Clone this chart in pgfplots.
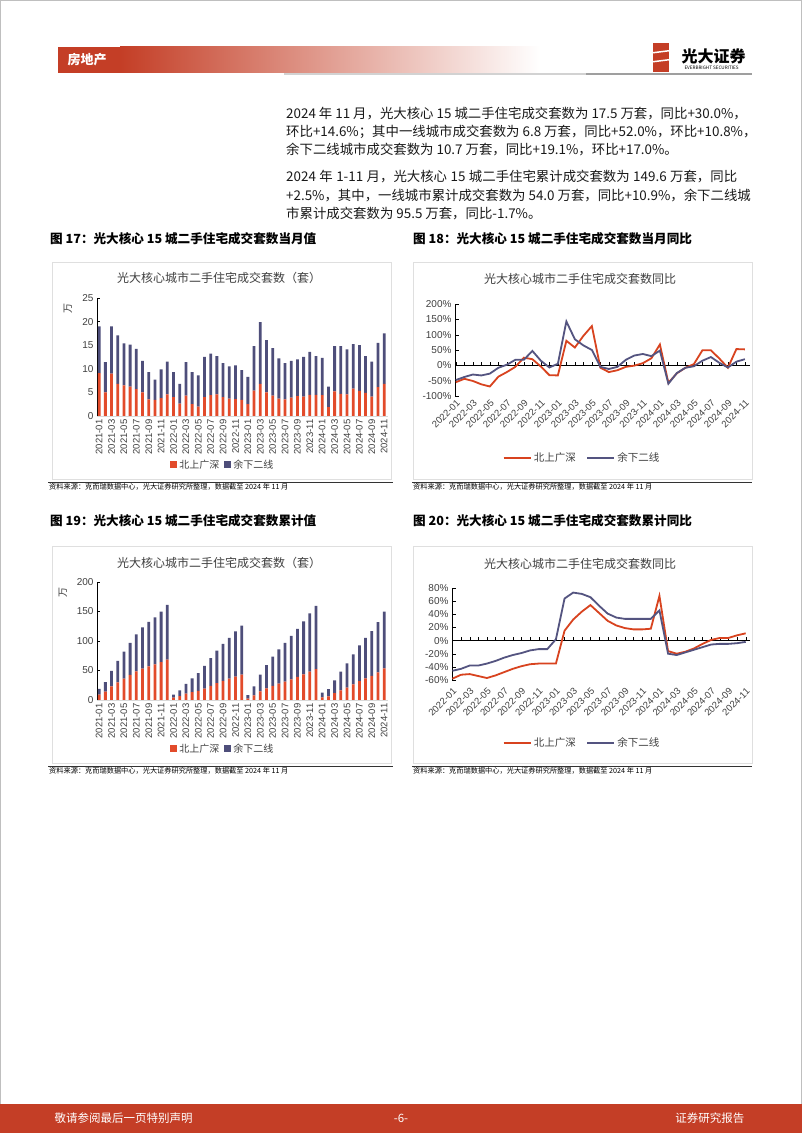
\documentclass[border=0pt]{standalone}
\usepackage{fontspec}
\setmainfont{Noto Sans CJK SC}
\newfontfamily\arial{Liberation Sans}
\usepackage{pgfplots}
\usepackage{pgfplotstable}
\pgfplotsset{compat=1.18}

\definecolor{ebred}{RGB}{226,75,43}
\definecolor{ebnavy}{RGB}{78,78,122}
\definecolor{lnred}{RGB}{216,67,31}
\definecolor{lnnavy}{RGB}{84,84,128}
\definecolor{hdrred}{RGB}{196,62,38}
\definecolor{txt}{RGB}{64,64,64}

% monthly volume, 10k units: x, tier-1 (r), other tier-2 (b)
\pgfplotstableread{
x r b
0 9.1 9.9
1 5.0 6.4
2 9.0 10.0
3 6.8 10.3
4 6.5 8.9
5 6.2 8.9
6 5.7 8.5
7 5.0 6.7
8 3.5 5.8
9 3.4 4.3
10 3.8 6.1
11 4.6 6.9
12 4.0 5.3
13 2.6 4.2
14 4.3 7.1
15 2.5 6.8
16 2.0 6.6
17 4.0 8.5
18 4.4 8.8
19 4.6 8.1
20 4.0 7.2
21 3.7 6.8
22 3.6 7.1
23 3.4 6.3
24 2.5 5.8
25 5.4 9.4
26 6.8 13.1
27 5.0 11.1
28 4.3 10.1
29 3.7 8.5
30 3.5 7.7
31 3.9 7.8
32 4.2 7.8
33 4.1 8.4
34 4.5 9.1
35 4.5 8.2
36 4.4 7.9
37 1.9 4.3
38 5.2 9.6
39 4.7 10.1
40 4.6 9.5
41 5.8 9.4
42 5.3 9.7
43 4.9 7.8
44 4.1 7.4
45 6.1 9.4
46 6.8 10.7
}\monthly

% year-to-date cumulative
\pgfplotstableread{
x r b
0 9.1 9.9
1 14.1 16.3
2 23.1 26.3
3 29.9 36.6
4 36.4 45.5
5 42.6 54.4
6 48.3 62.9
7 53.3 69.6
8 56.8 75.4
9 60.2 79.7
10 64.0 85.8
11 68.6 92.7
12 4.0 5.3
13 6.6 9.5
14 10.9 16.6
15 13.4 23.4
16 15.4 30.0
17 19.4 38.5
18 23.8 47.3
19 28.4 55.4
20 32.4 62.6
21 36.1 69.4
22 39.7 76.5
23 43.1 82.8
24 2.5 5.8
25 7.9 15.2
26 14.7 28.3
27 19.7 39.4
28 24.0 49.5
29 27.7 58.0
30 31.2 65.7
31 35.1 73.5
32 39.3 81.3
33 43.4 89.7
34 47.9 98.8
35 52.4 107.0
36 4.4 7.9
37 6.3 12.2
38 11.5 21.8
39 16.2 31.9
40 20.8 41.4
41 26.6 50.8
42 31.9 60.5
43 36.8 68.3
44 40.9 75.7
45 47.0 85.1
46 53.8 95.8
}\cumul

% yoy %, monthly (r, b) and cumulative (cr, cb), 2022-01 .. 2024-11
\pgfplotstableread{
x r b cr cb
0 -55 -48 -58 -46
1 -44 -38 -52 -43
2 -51 -30 -51 -38
3 -62 -33 -54 -38
4 -69 -27 -57 -35
5 -37 -8 -53 -31
6 -22 2 -48 -26
7 -5 18 -43 -22
8 25 18 -39 -19
9 20 47 -36 -15
10 -4 15 -35 -13
11 -32 -7 -35 -13
12 -33 5 -35 2
13 80 143 15 64
14 58 85 32 73
15 96 65 44 71
16 128 50 54 66
17 -8 -5 42 53
18 -22 -12 30 41
19 -16 -5 23 35
20 -5 18 19 33
21 -1 32 17 33
22 7 37 17 33
23 23 30 18 33
24 68 48 68 46
25 -57 -60 -16 -20
26 -26 -25 -20 -22
27 -8 -8 -17 -18
28 4 -3 -12 -14
29 49 15 -5 -10
30 49 27 1 -6
31 22 8 4 -5
32 -8 -7 4 -5
33 53 12 8 -4
34 52 20 11 -2
}\yoy

\pgfplotsset{
  barchart/.style={
    scale only axis, width=290.9pt, height=118pt,
    xmin=-0.35, xmax=46.6, ymin=0,
    ybar stacked, bar width=2.8pt,
    axis y line=left, axis x line=bottom,
    axis line style={-},
    x axis line style={draw=gray!30},
    y axis line style={black, line width=0.6pt},
    tick align=inside, major tick length=3pt,
    xtick={0,2,...,46},
    xticklabels={2021-01,2021-03,2021-05,2021-07,2021-09,2021-11,
      2022-01,2022-03,2022-05,2022-07,2022-09,2022-11,
      2023-01,2023-03,2023-05,2023-07,2023-09,2023-11,
      2024-01,2024-03,2024-05,2024-07,2024-09,2024-11},
    x tick label style={rotate=90, anchor=east, font=\arial\fontsize{9.5}{10}\selectfont, text=txt},
    xtick style={draw=none},
    y tick label style={font=\arial\fontsize{10}{11}\selectfont, text=txt},
    ytick style={black},
    /pgf/number format/assume math mode=true,
    legend columns=2, legend cell align=left,
    legend style={draw=none, fill=none, anchor=center,
      font=\fontsize{10}{12}\selectfont, text=txt,
      /tikz/every even column/.append style={column sep=3pt}},
    ylabel={万},
  },
  linechart/.style={
    scale only axis, height=92pt,
    axis y line=left, axis x line=middle,
    axis line style={-, black, line width=0.6pt},
    hide obscured x ticks=false, hide obscured y ticks=false,
    tick align=inside, major tick length=3.5pt, minor tick length=3.5pt,
    xtick={0,2,...,34}, minor xtick={1,3,...,33},
    xticklabels={2022-01,2022-03,2022-05,2022-07,2022-09,2022-11,
      2023-01,2023-03,2023-05,2023-07,2023-09,2023-11,
      2024-01,2024-03,2024-05,2024-07,2024-09,2024-11},
    x tick label style={rotate=45, anchor=north east, font=\arial\fontsize{9.5}{10}\selectfont, text=txt},
    y tick label style={font=\arial\fontsize{10}{11}\selectfont, text=txt},
    tick style={black},
    /pgf/number format/assume math mode=true,
    yticklabel={\pgfmathprintnumber{\tick}\%},
    legend columns=2, legend cell align=left,
    legend style={draw=none, fill=none, anchor=center,
      font=\fontsize{10.5}{12}\selectfont, text=txt,
      /tikz/every even column/.append style={column sep=8pt}},
    every axis plot/.append style={line width=1.8pt, mark=none},
  },
  sqleg/.style={legend image code/.code={\fill[##1] (0pt,-3.5pt) rectangle (7pt,3.5pt);}},
  lnleg/.style={legend image code/.code={\draw[##1, line width=2.5pt] (0pt,0pt) -- (27pt,0pt);}},
}

\begin{document}
\begin{tikzpicture}
\path[use as bounding box] (0pt,0pt) rectangle (802pt,1133pt);
\fill[white] (0pt,0pt) rectangle (802pt,1133pt);

\begin{scope}[yshift=1133pt, yscale=-1]
% page frame
\draw[gray!50, line width=0.8pt] (0.4pt,0.4pt) rectangle (801.6pt,1132.6pt);
% header
\fill[hdrred] (58pt,47pt) rectangle (120pt,73pt);
\shade[left color=hdrred, right color=white] (120pt,47pt) rectangle (540pt,73pt);
\node[anchor=west, text=white, font=\fontsize{13}{14}\selectfont\bfseries] at (64pt,60pt) {房地产};
\draw[gray!35, line width=1.6pt] (284pt,74pt) -- (586pt,74pt);
\draw[gray!75, line width=1.6pt] (586pt,74pt) -- (752pt,74pt);
% logo
\fill[hdrred] (653pt,43pt) rectangle (669pt,72pt);
\fill[white] (653pt,52pt) -- (669pt,50pt) -- (669pt,51.5pt) -- (653pt,53.5pt) -- cycle;
\fill[white] (653pt,61pt) -- (669pt,59pt) -- (669pt,60.5pt) -- (653pt,62.5pt) -- cycle;
\node[anchor=west, font=\fontsize{16}{17}\selectfont\bfseries] at (678pt,56pt) {光大证券};
\node[anchor=west, font=\fontsize{4.6}{5}\selectfont] at (681pt,67.5pt) {EVERBRIGHT SECURITIES};

% body text
\begin{scope}[every node/.style={anchor=west, inner sep=0pt, font=\fontsize{13.4}{15}\selectfont, text=black!90}]
\node at (286pt,114pt) {2024 年 11 月，光大核心 15 城二手住宅成交套数为 17.5 万套，同比+30.0\%，};
\node at (286pt,132pt) {环比+14.6\%；其中一线城市成交套数为 6.8 万套，同比+52.0\%，环比+10.8\%，};
\node at (286pt,150pt) {余下二线城市成交套数为 10.7 万套，同比+19.1\%，环比+17.0\%。};
\node at (286pt,177pt) {\makebox[451pt][s]{2024 年 1-11 月，光大核心 15 城二手住宅累计成交套数为 149.6 万套，同比}};
\node at (286pt,196pt) {+2.5\%，其中，一线城市累计成交套数为 54.0 万套，同比+10.9\%，余下二线城};
\node at (286pt,214pt) {市累计成交套数为 95.5 万套，同比-1.7\%。};
\end{scope}

% figure captions
\begin{scope}[every node/.style={anchor=west, inner sep=0pt, font=\fontsize{12.6}{14}\selectfont\bfseries}]
\node at (50pt,239pt) {图 17：光大核心 15 城二手住宅成交套数当月值};
\node at (413pt,239pt) {图 18：光大核心 15 城二手住宅成交套数当月同比};
\node at (50pt,521pt) {图 19：光大核心 15 城二手住宅成交套数累计值};
\node at (413pt,521pt) {图 20：光大核心 15 城二手住宅成交套数累计同比};
\end{scope}

% chart frames
\draw[gray!25, line width=0.6pt] (52pt,262pt) rectangle (391pt,479pt);
\draw[gray!25, line width=0.6pt] (413pt,262pt) rectangle (752pt,479pt);
\draw[gray!25, line width=0.6pt] (52pt,546pt) rectangle (391pt,763pt);
\draw[gray!25, line width=0.6pt] (413pt,546pt) rectangle (752pt,763pt);

% chart titles
\begin{scope}[every node/.style={font=\fontsize{12}{13}\selectfont, text=txt}]
\node at (219pt,278pt) {光大核心城市二手住宅成交套数（套）};
\node at (580pt,279pt) {光大核心城市二手住宅成交套数同比};
\node at (219pt,563pt) {光大核心城市二手住宅成交套数（套）};
\node at (580pt,564pt) {光大核心城市二手住宅成交套数同比};
\end{scope}

% sources
\draw[black!80, line width=0.8pt] (48pt,482pt) -- (393pt,482pt);
\draw[black!80, line width=0.8pt] (412pt,482pt) -- (752pt,482pt);
\draw[black!80, line width=0.8pt] (48pt,766pt) -- (393pt,766pt);
\draw[black!80, line width=0.8pt] (412pt,766pt) -- (752pt,766pt);
\begin{scope}[every node/.style={anchor=west, inner sep=0pt, font=\fontsize{7.2}{8}\selectfont}]
\node at (49pt,487pt) {资料来源：克而瑞数据中心，光大证券研究所整理，数据截至 2024 年 11 月};
\node at (413pt,487pt) {资料来源：克而瑞数据中心，光大证券研究所整理，数据截至 2024 年 11 月};
\node at (49pt,771pt) {资料来源：克而瑞数据中心，光大证券研究所整理，数据截至 2024 年 11 月};
\node at (413pt,771pt) {资料来源：克而瑞数据中心，光大证券研究所整理，数据截至 2024 年 11 月};
\end{scope}

% footer
\fill[hdrred] (0pt,1104pt) rectangle (802pt,1133pt);
\begin{scope}[every node/.style={text=white, font=\fontsize{11.5}{13}\selectfont}]
\node[anchor=west] at (51pt,1118pt) {敬请参阅最后一页特别声明};
\node at (401pt,1118pt) {-6-};
\node[anchor=east] at (748pt,1118pt) {证券研究报告};
\end{scope}
\end{scope}

% Fig 17: monthly
\begin{axis}[barchart, at={(97pt,717pt)}, anchor=south west,
  ymax=25, ytick={0,5,...,25},
  legend style={at={(0.433,-0.415)}},
  every axis y label/.style={at={(axis description cs:-0.1,0.915)}, rotate=90, anchor=center, font=\fontsize{10}{11}\selectfont, text=txt}]
\addplot[fill=ebred, draw=none, sqleg] table[x=x, y=r] {\monthly};
\addlegendentry{北上广深}
\addplot[fill=ebnavy, draw=none, sqleg] table[x=x, y=b] {\monthly};
\addlegendentry{余下二线}
\end{axis}

% Fig 19: cumulative
\begin{axis}[barchart, at={(97pt,433pt)}, anchor=south west,
  ymax=200, ytick={0,50,...,200},
  legend style={at={(0.433,-0.415)}},
  every axis y label/.style={at={(axis description cs:-0.117,0.907)}, rotate=90, anchor=center, font=\fontsize{10}{11}\selectfont, text=txt}]
\addplot[fill=ebred, draw=none, sqleg] table[x=x, y=r] {\cumul};
\addlegendentry{北上广深}
\addplot[fill=ebnavy, draw=none, sqleg] table[x=x, y=b] {\cumul};
\addlegendentry{余下二线}
\end{axis}

% Fig 18: monthly yoy
\begin{axis}[linechart, at={(455pt,737pt)}, anchor=south west,
  width=295pt, xmin=-0.1, xmax=34.6, ymin=-100, ymax=200,
  ytick={-100,-50,...,200},
  xticklabel shift=29pt,
  legend style={at={(0.43,-0.674)}}]
\addplot[lnred, lnleg] table[x=x, y=r] {\yoy};
\addlegendentry{北上广深}
\addplot[lnnavy, lnleg] table[x=x, y=b] {\yoy};
\addlegendentry{余下二线}
\end{axis}

% Fig 20: cumulative yoy
\begin{axis}[linechart, at={(452pt,453pt)}, anchor=south west,
  width=298pt, xmin=-0.05, xmax=34.5, ymin=-60, ymax=80,
  ytick={-60,-40,...,80},
  xticklabel shift=42pt,
  legend style={at={(0.436,-0.685)}}]
\addplot[lnred, lnleg] table[x=x, y=cr] {\yoy};
\addlegendentry{北上广深}
\addplot[lnnavy, lnleg] table[x=x, y=cb] {\yoy};
\addlegendentry{余下二线}
\end{axis}
\end{tikzpicture}
\end{document}
